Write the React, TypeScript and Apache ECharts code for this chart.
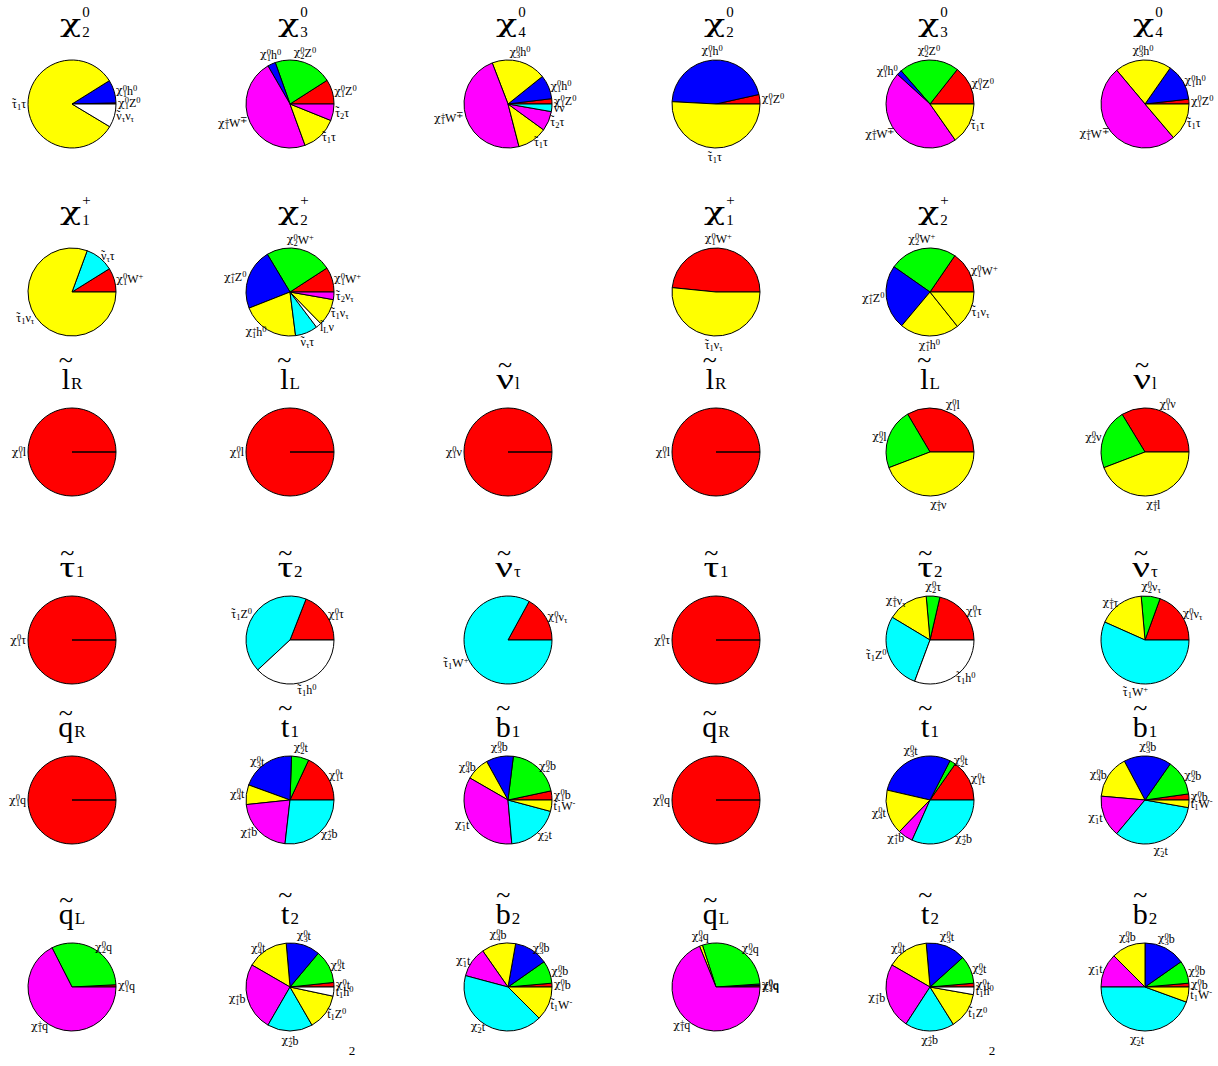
import React, { useEffect, useRef } from "react";
import * as echarts from "echarts";

const FONT = '"Liberation Serif", "Times New Roman", Times, serif';
const GREEK_FONT = '"DejaVu Serif", "Liberation Serif", serif';
const R = 44;
const COL_X = [72, 290, 508, 716, 930, 1145];
const ROW_Y = [104, 292, 452, 640, 800, 987];

const FILL: Record<string, string> = {
  R: "#ff0000",
  G: "#00ff00",
  B: "#0000ff",
  Y: "#ffff00",
  M: "#ff00ff",
  C: "#00ffff",
  W: "#ffffff",
};

// Label notation: "~" puts a tilde over the next letter, "^x" is a superscript,
// "_x" a subscript (a superscript directly followed by a subscript is stacked).

// neutralino decays
const n2aLabels = ["χ^0_1Z^0", "χ^0_1h^0", "~τ_1τ", "~ν_τν_τ"];
const n2aValues = [1.5, 30.5, 297, 31];
const n2aFills = "RBYW";

const n3aLabels = ["χ^0_1Z^0", "χ^0_2Z^0", "χ^0_1h^0", "χ^±_1W^∓", "~τ_1τ", "~τ_2τ"];
const n3aValues = [32.6, 77, 10.5, 170, 48, 22];
const n3aFills = "RGBMYM";

const n4aLabels = ["χ^0_1Z^0", "χ^0_1h^0", "χ^0_3h^0", "χ^±_1W^∓", "~τ_1τ", "~τ_2τ", "~νν"];
const n4aValues = [7, 31.7, 72.3, 173.5, 39.5, 26, 10];
const n4aFills = "RBYMYMC";

const n2bLabels = ["χ^0_1Z^0", "χ^0_1h^0", "~τ_1τ"];
const n2bValues = [12.5, 164.5, 183];
const n2bFills = "RBY";

const n3bLabels = ["χ^0_1Z^0", "χ^0_2Z^0", "χ^0_1h^0", "χ^±_1W^∓", "~τ_1τ"];
const n3bValues = [51.7, 79.3, 6.8, 167.2, 55];
const n3bFills = "RGBMY";

const n4bLabels = ["χ^0_1Z^0", "χ^0_1h^0", "χ^0_3h^0", "χ^±_1W^∓", "~τ_1τ"];
const n4bValues = [6.4, 48.6, 75, 180.3, 49.7];
const n4bFills = "RBYMY";

// chargino decays
const c1aLabels = ["χ^0_1W^+", "~ν_ττ", "~τ_1ν_τ"];
const c1aValues = [31.9, 37.9, 290.2];
const c1aFills = "RCY";

const c2aLabels = ["χ^0_1W^+", "χ^0_2W^+", "χ^+_1Z^0", "χ^+_1h^0", "~ν_ττ", "~l_Lν", "~τ_1ν_τ", "~τ_2ν_τ"];
const c2aValues = [33, 88, 80.5, 75.8, 29.7, 7.3, 35.7, 10];
const c2aFills = "RGBYCWYM";

const c1bLabels = ["χ^0_1W^+", "~τ_1ν_τ"];
const c1bValues = [174.3, 185.7];
const c1bFills = "RY";

const c2bLabels = ["χ^0_1W^+", "χ^0_2W^+", "χ^+_1Z^0", "χ^+_1h^0", "~τ_1ν_τ"];
const c2bValues = [55.6, 89.4, 85, 78.6, 51.4];
const c2bFills = "RGBYY";

// slepton decays
const lRLabels = ["χ^0_1l"];
const lRValues = [100];
const lRFills = "R";

const lLaLabels = ["χ^0_1l"];
const lLaValues = [100];
const lLaFills = "R";

const nlaLabels = ["χ^0_1ν"];
const nlaValues = [100];
const nlaFills = "R";

const lLbLabels = ["χ^0_1l", "χ^0_2l", "χ^±_1ν"];
const lLbValues = [120.6, 80.3, 159.1];
const lLbFills = "RGY";

const nlbLabels = ["χ^0_1ν", "χ^0_2ν", "χ^±_1l"];
const nlbValues = [121.3, 79.6, 159.1];
const nlbFills = "RGY";

// stau / tau-sneutrino decays
const ta1Labels = ["χ^0_1τ"];
const ta1Values = [100];
const ta1Fills = "R";

const ta2aLabels = ["χ^0_1τ", "~τ_1Z^0", "~τ_1h^0"];
const ta2aValues = [68.6, 154.3, 137.1];
const ta2aFills = "RCW";

const ntaLabels = ["χ^0_1ν_τ", "~τ_1W^+"];
const ntaValues = [61.3, 298.7];
const ntaFills = "RC";

const ta2bLabels = ["χ^0_1τ", "χ^0_2τ", "χ^±_1ν_τ", "~τ_1Z^0", "~τ_1h^0"];
const ta2bValues = [77, 18, 54, 100.6, 110.4];
const ta2bFills = "RGYCW";

const ntbLabels = ["χ^0_1ν_τ", "χ^0_2ν_τ", "χ^±_1τ", "~τ_1W^+"];
const ntbValues = [70, 25, 61, 204];
const ntbFills = "RGYC";

// squark decays
const qRLabels = ["χ^0_1q"];
const qRValues = [100];
const qRFills = "R";

const st1Labels = ["χ^0_1t", "χ^0_2t", "χ^0_3t", "χ^0_4t", "χ^+_1b", "χ^+_2b"];
const st1aValues = [65, 23, 72, 26, 77.5, 96.5];
const st1bValues = [55, 8, 104, 59, 20, 114];
const st1Fills = "RGBYMC";

const sbLabels = ["χ^0_1b", "χ^0_2b", "χ^0_3b", "χ^0_4b", "χ^-_1t", "χ^-_2t", "~t_1W^-"];
const sb1aValues = [12, 71, 36, 31, 125, 70, 15];
const sb1bValues = [8, 47, 63, 57, 55, 120, 10];
const sbFills = "RGBYMCY";

const qLaLabels = ["χ^0_1q", "χ^0_2q", "χ^±_1q"];
const qLaValues = [3, 114, 243];
const qLaFills = "RGM";

const qLbLabels = ["χ^0_1q", "χ^0_3q", "χ^0_2q", "χ^0_4q", "χ^±_1q"];
const qLbValues = [2, 2, 104, 4, 248];
const qLbFills = "RBGYM";

const st2Labels = ["χ^0_1t", "χ^0_2t", "χ^0_3t", "χ^0_4t", "χ^+_1b", "χ^+_2b", "~t_1Z^0", "~t_1h^0"];
const st2aValues = [6, 44, 45, 55, 90, 60, 48, 12];
const st2bValues = [5, 37, 53, 55, 87, 65, 48, 10];
const st2Fills = "RGBYMCYW";

const sb2aValues = [5, 30, 45, 45, 40, 150, 45];
const sb2bValues = [5, 30, 55, 45, 45, 160, 20];

// [row, column, title, labels, values, fills]
type Panel = [number, number, string, string[], number[], string];
const PANELS: Panel[] = [
  [0, 0, "χ^0_2", n2aLabels, n2aValues, n2aFills],
  [0, 1, "χ^0_3", n3aLabels, n3aValues, n3aFills],
  [0, 2, "χ^0_4", n4aLabels, n4aValues, n4aFills],
  [0, 3, "χ^0_2", n2bLabels, n2bValues, n2bFills],
  [0, 4, "χ^0_3", n3bLabels, n3bValues, n3bFills],
  [0, 5, "χ^0_4", n4bLabels, n4bValues, n4bFills],
  [1, 0, "χ^+_1", c1aLabels, c1aValues, c1aFills],
  [1, 1, "χ^+_2", c2aLabels, c2aValues, c2aFills],
  [1, 3, "χ^+_1", c1bLabels, c1bValues, c1bFills],
  [1, 4, "χ^+_2", c2bLabels, c2bValues, c2bFills],
  [2, 0, "~l_R", lRLabels, lRValues, lRFills],
  [2, 1, "~l_L", lLaLabels, lLaValues, lLaFills],
  [2, 2, "~ν_l", nlaLabels, nlaValues, nlaFills],
  [2, 3, "~l_R", lRLabels, lRValues, lRFills],
  [2, 4, "~l_L", lLbLabels, lLbValues, lLbFills],
  [2, 5, "~ν_l", nlbLabels, nlbValues, nlbFills],
  [3, 0, "~τ_1", ta1Labels, ta1Values, ta1Fills],
  [3, 1, "~τ_2", ta2aLabels, ta2aValues, ta2aFills],
  [3, 2, "~ν_τ", ntaLabels, ntaValues, ntaFills],
  [3, 3, "~τ_1", ta1Labels, ta1Values, ta1Fills],
  [3, 4, "~τ_2", ta2bLabels, ta2bValues, ta2bFills],
  [3, 5, "~ν_τ", ntbLabels, ntbValues, ntbFills],
  [4, 0, "~q_R", qRLabels, qRValues, qRFills],
  [4, 1, "~t_1", st1Labels, st1aValues, st1Fills],
  [4, 2, "~b_1", sbLabels, sb1aValues, sbFills],
  [4, 3, "~q_R", qRLabels, qRValues, qRFills],
  [4, 4, "~t_1", st1Labels, st1bValues, st1Fills],
  [4, 5, "~b_1", sbLabels, sb1bValues, sbFills],
  [5, 0, "~q_L", qLaLabels, qLaValues, qLaFills],
  [5, 1, "~t_2", st2Labels, st2aValues, st2Fills],
  [5, 2, "~b_2", sbLabels, sb2aValues, sbFills],
  [5, 3, "~q_L", qLbLabels, qLbValues, qLbFills],
  [5, 4, "~t_2", st2Labels, st2bValues, st2Fills],
  [5, 5, "~b_2", sbLabels, sb2bValues, sbFills],
];

const PAGE_NUMBERS = [
  { text: "2", x: 352, y: 1055 },
  { text: "2", x: 992, y: 1055 },
];

const TXT = { fontFamily: FONT, color: "#000", lineHeight: 15, align: "left" };
const RICH = {
  b: { ...TXT, fontSize: 12 },
  chi: { ...TXT, fontFamily: GREEK_FONT, fontSize: 11 },
  sup: { ...TXT, fontSize: 8.5, verticalAlign: "top" },
  supz: { ...TXT, fontSize: 8.5, verticalAlign: "top", width: 0 },
  sub: { ...TXT, fontSize: 8.5, verticalAlign: "bottom" },
  tl: { ...TXT, fontSize: 12, verticalAlign: "top", width: 0 },
};

// turn the compact notation into ECharts rich text
function toRich(spec: string): string {
  let out = "";
  let plain = "";
  const flush = () => {
    if (plain) {
      out += `{b|${plain}}`;
      plain = "";
    }
  };
  let i = 0;
  while (i < spec.length) {
    const ch = spec[i];
    if (ch === "~") {
      flush();
      out += "{tl|˜}";
      i += 1;
    } else if (ch === "^") {
      flush();
      const stacked = spec[i + 2] === "_";
      out += `{${stacked ? "supz" : "sup"}|${spec[i + 1]}}`;
      i += 2;
    } else if (ch === "_") {
      flush();
      out += `{sub|${spec[i + 1]}}`;
      i += 2;
    } else if (ch === "χ") {
      flush();
      out += "{chi|χ}";
      i += 1;
    } else {
      plain += ch;
      i += 1;
    }
  }
  flush();
  return out;
}

function textEl(text: string, x: number, baseline: number, fs: number, align = "left", scaleX = 1, family = FONT) {
  return {
    type: "text",
    x,
    y: baseline - 0.3375 * fs,
    scaleX,
    silent: true,
    style: { text, fontSize: fs, fontFamily: family, fill: "#000", align, verticalAlign: "middle" },
  };
}

function titleEls(spec: string, cx: number, cy: number, measure: (t: string, fs: number, f?: string) => number) {
  let i = 0;
  let tilde = false;
  if (spec[0] === "~") {
    tilde = true;
    i = 1;
  }
  const base = spec[i];
  let sup = "";
  let sub = "";
  for (let k = i + 1; k < spec.length; k += 2) {
    if (spec[k] === "^") sup = spec[k + 1];
    if (spec[k] === "_") sub = spec[k + 1];
  }
  const els: any[] = [];
  if (base === "χ") {
    const fs = 25;
    const sx = 1.4;
    const w = measure("χ", fs, GREEK_FONT) * sx;
    const left = cx - 12;
    els.push(textEl("χ", left, cy - 72, fs, "left", sx, GREEK_FONT));
    els.push(textEl(sup, left + w + 1, cy - 87, 15));
    els.push(textEl(sub, left + w + 1, cy - 67, 15));
  } else {
    const fs = 30;
    const sfs = 17;
    const greek = /[α-ω]/.test(base);
    const sx = greek ? 1.3 : 1;
    const w = measure(base, fs) * sx;
    const sw = measure(sub, sfs);
    const left = cx - (w + sw + 1) / 2;
    const B = cy - 63;
    els.push(textEl(base, left, B, fs, "left", sx));
    els.push(textEl(sub, left + w + 1, B, sfs));
    if (tilde) {
      const tall = /[lbt]/.test(base);
      els.push(textEl("~", left + w / 2, B - (tall ? 21 : 16), 26, "center"));
    }
  }
  return els;
}

function buildOption() {
  const canvas = document.createElement("canvas");
  const ctx = canvas.getContext("2d")!;
  const measure = (t: string, fs: number, family = FONT) => {
    ctx.font = `${fs}px ${family}`;
    return ctx.measureText(t).width;
  };

  const series = PANELS.map(([row, col, , labels, values, fills]) => {
    const cx = COL_X[col];
    const cy = ROW_Y[row];
    const total = values.reduce((a, b) => a + b, 0);
    const mids: number[] = [];
    let acc = 0;
    const data: any[] = labels.map((name, k) => {
      const v = values[k];
      mids.push(((acc + v / 2) / total) * 2 * Math.PI);
      acc += v;
      return { name, value: v, itemStyle: { color: FILL[fills[k]] } };
    });
    if (labels.length === 1) {
      // a hair-thin companion slice so the single full slice keeps its radial border
      data.unshift({ name: "", value: total * 1e-4, itemStyle: { color: FILL[fills[0]] }, label: { show: false } });
      mids.unshift(0);
    }
    return {
      type: "pie",
      center: [cx, cy],
      radius: R,
      startAngle: 0,
      clockwise: false,
      silent: true,
      avoidLabelOverlap: false,
      itemStyle: { borderColor: "#000", borderWidth: 1 },
      label: {
        show: true,
        position: "outside",
        color: "#000",
        formatter: (p: any) => toRich(p.name),
        rich: RICH,
      },
      labelLine: { show: false, length: 0, length2: 0 },
      labelLayout: (p: any) => {
        const a = mids[p.dataIndex];
        const c = Math.cos(a);
        const s = Math.sin(a);
        const d = R + 2;
        const x = cx + d * c;
        const y = cy - d * s;
        if (Math.abs(c) < 0.5) {
          return { x, y, align: "center", verticalAlign: s > 0 ? "bottom" : "top" };
        }
        return { x, y, align: c > 0 ? "left" : "right", verticalAlign: "middle" };
      },
      data,
    };
  });

  const graphic: any[] = [];
  PANELS.forEach(([row, col, title]) => {
    graphic.push(...titleEls(title, COL_X[col], ROW_Y[row], measure));
  });
  PAGE_NUMBERS.forEach((p) => graphic.push(textEl(p.text, p.x, p.y, 13, "center")));

  return {
    animation: false,
    backgroundColor: "#ffffff",
    series,
    graphic: { elements: graphic },
  };
}

export default function App() {
  const ref = useRef<HTMLDivElement>(null);
  useEffect(() => {
    document.body.style.margin = "0";
    const chart = echarts.init(ref.current!, null, { renderer: "svg" });
    chart.setOption(buildOption() as any);
    return () => chart.dispose();
  }, []);
  return <div ref={ref} style={{ width: 1218, height: 1066, background: "#fff" }} />;
}
